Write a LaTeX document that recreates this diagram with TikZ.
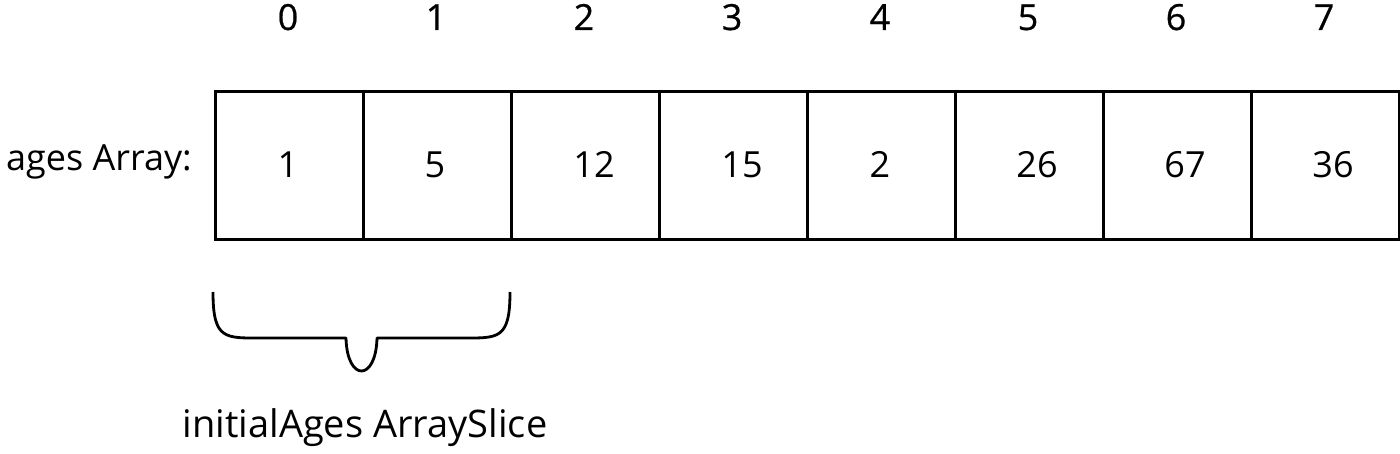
\documentclass[tikz,border=0pt]{standalone}
\usepackage{fontspec}
\setmainfont{Open Sans}
\begin{document}
\begin{tikzpicture}[x=1pt,y=-1pt,
  cell/.style={draw=black,line width=2.8pt,minimum width=148pt,minimum height=148pt,inner sep=0pt,anchor=north west},
  idx/.style={font=\fontsize{36}{40}\selectfont\addfontfeature{FakeBold=0.6},inner sep=0pt},
  val/.style={font=\fontsize{36}{40}\selectfont,inner sep=0pt},
  lbl/.style={font=\fontsize{38}{42}\selectfont,inner sep=0pt},
  brace/.style={draw=black,line width=2.8pt,line join=round}]
\useasboundingbox (0,0) rectangle (1400,454);
\foreach \i in {0,...,7}{
  \node[cell] (c\i) at ({214+148*\i},90) {};
  \node[idx,anchor=base] (i\i) at ({288+148*\i},30) {\i};
}
\node[val,anchor=base] (v0) at (288,178) {1};
\node[val,anchor=base] (v1) at (435,178) {5};
\node[val,anchor=base] (v2) at (594,178) {12};
\node[val,anchor=base] (v3) at (742,178) {15};
\node[val,anchor=base] (v4) at (880,178) {2};
\node[val,anchor=base] (v5) at (1037,178) {26};
\node[val,anchor=base] (v6) at (1185,178) {67};
\node[val,anchor=base] (v7) at (1333,178) {36};
\node[lbl,font=\fontsize{36}{40}\selectfont,anchor=base east] (arr) at (192,171) {ages Array:};
\coordinate (bl) at (213,292);
\coordinate (br) at (510,292);
\draw[brace] (bl) .. controls (213,340) and (225,338) .. (262,338) -- (346,338)
  .. controls (347,382) and (376,382) .. (377,338) -- (462,338)
  .. controls (498,338) and (510,340) .. (br);
\node[lbl,anchor=base] (slice) at (365,437) {initialAges ArraySlice};
\end{tikzpicture}
\end{document}
